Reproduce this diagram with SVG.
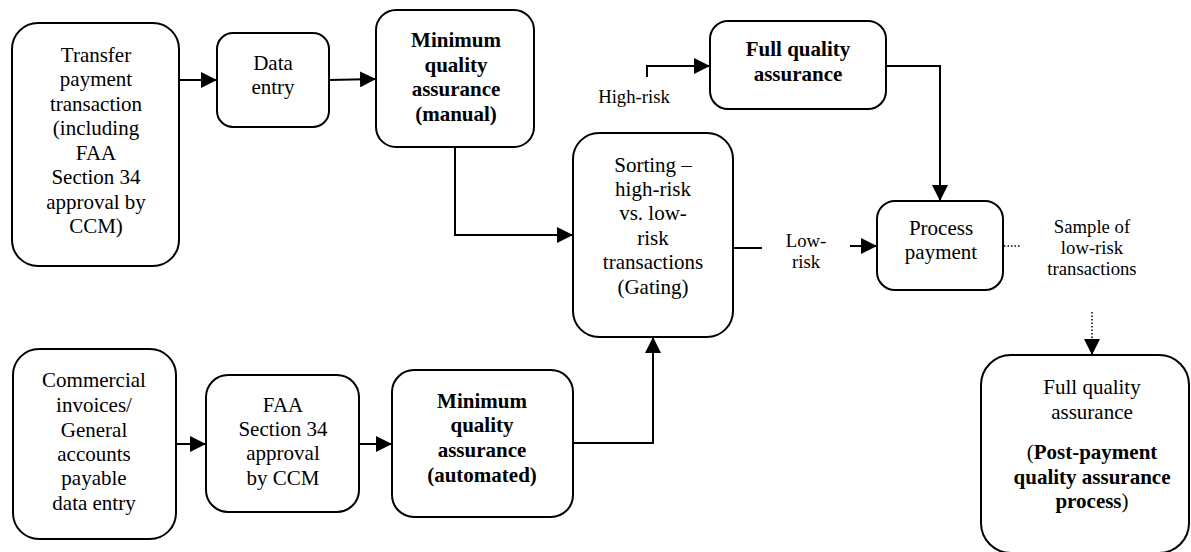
<svg xmlns="http://www.w3.org/2000/svg" width="1191" height="552" viewBox="0 0 1191 552">
<defs>
<style>
.box{fill:#fff;stroke:#000;stroke-width:2}
.t{font-family:'Liberation Serif','Times New Roman',Tinos,'DejaVu Serif',serif;font-size:21px;fill:#000;text-anchor:middle}
.b{font-weight:bold}
.lbl{font-family:'Liberation Serif','Times New Roman',Tinos,'DejaVu Serif',serif;font-size:18.7px;fill:#000;text-anchor:middle}
.c{fill:none;stroke:#000;stroke-width:2}
.dot{fill:none;stroke:#000;stroke-width:1.5;stroke-dasharray:1.5 2}
</style>
<marker id="ah" markerUnits="userSpaceOnUse" markerWidth="16" markerHeight="16" viewBox="0 0 16 16" refX="16" refY="8" orient="auto">
<path d="M0,0 L16,8 L0,16 Z" fill="#000"/>
</marker>
</defs>
<rect width="1191" height="552" fill="#fff"/>

<g id="connectors">
<line class="c" x1="179" y1="80" x2="217" y2="80" marker-end="url(#ah)"/>
<line class="c" x1="329" y1="80" x2="376" y2="79" marker-end="url(#ah)"/>
<polyline class="c" points="455,147 455,235 573,235" marker-end="url(#ah)"/>
<polyline class="c" points="647,77 647,66 710,66" marker-end="url(#ah)"/>
<line class="c" x1="647" y1="133" x2="647" y2="149"/>
<polyline class="c" points="886,66 940,66 940,201" marker-end="url(#ah)"/>
<line class="c" x1="733" y1="248" x2="762" y2="248"/>
<line class="c" x1="850" y1="246" x2="877" y2="246" marker-end="url(#ah)"/>
<line class="dot" x1="1004" y1="246" x2="1021" y2="246"/>
<line class="dot" x1="1092" y1="312" x2="1092" y2="342"/>
<line class="c" x1="1092" y1="340" x2="1092" y2="355" stroke-width="0" marker-end="url(#ah)"/>
<line class="c" x1="176" y1="444" x2="206" y2="444" marker-end="url(#ah)"/>
<line class="c" x1="359" y1="444" x2="392" y2="444" marker-end="url(#ah)"/>
<polyline class="c" points="573,443 653,443 653,337" marker-end="url(#ah)"/>
</g>

<g id="n-transfer">
<rect class="box" x="12" y="23" width="167" height="243" rx="26"/>
<text class="t" x="96" y="62">Transfer</text>
<text class="t" x="96" y="86">payment</text>
<text class="t" x="96" y="111">transaction</text>
<text class="t" x="96" y="135">(including</text>
<text class="t" x="96" y="160">FAA</text>
<text class="t" x="96" y="184">Section 34</text>
<text class="t" x="96" y="209">approval by</text>
<text class="t" x="96" y="233">CCM)</text>
</g>

<g id="n-dataentry">
<rect class="box" x="217" y="33" width="112" height="94" rx="16"/>
<text class="t" x="273" y="70">Data</text>
<text class="t" x="273" y="94">entry</text>
</g>

<g id="n-minqa-manual">
<rect class="box" x="376" y="10" width="158" height="137" rx="20"/>
<text class="t b" x="456" y="47">Minimum</text>
<text class="t b" x="456" y="72">quality</text>
<text class="t b" x="456" y="96">assurance</text>
<text class="t b" x="456" y="121">(manual)</text>
</g>

<g id="n-fullqa">
<rect class="box" x="710" y="21" width="176" height="88" rx="18"/>
<text class="t b" x="798" y="56">Full quality</text>
<text class="t b" x="798" y="81">assurance</text>
</g>

<g id="n-sorting">
<rect class="box" x="573" y="133" width="160" height="204" rx="26"/>
<text class="t" x="653" y="172">Sorting –</text>
<text class="t" x="653" y="196">high-risk</text>
<text class="t" x="653" y="220">vs. low-</text>
<text class="t" x="653" y="245">risk</text>
<text class="t" x="653" y="269">transactions</text>
<text class="t" x="653" y="294">(Gating)</text>
</g>

<g id="n-process">
<rect class="box" x="877" y="201" width="126" height="89" rx="18"/>
<text class="t" x="941" y="235">Process</text>
<text class="t" x="941" y="259">payment</text>
</g>

<g id="n-commercial">
<rect class="box" x="13" y="349" width="163" height="190" rx="26"/>
<text class="t" x="94" y="387">Commercial</text>
<text class="t" x="94" y="412">invoices/</text>
<text class="t" x="94" y="437">General</text>
<text class="t" x="94" y="461">accounts</text>
<text class="t" x="94" y="485">payable</text>
<text class="t" x="94" y="510">data entry</text>
</g>

<g id="n-faa">
<rect class="box" x="206" y="375" width="153" height="137" rx="22"/>
<text class="t" x="283" y="412">FAA</text>
<text class="t" x="283" y="436">Section 34</text>
<text class="t" x="283" y="460">approval</text>
<text class="t" x="283" y="485">by CCM</text>
</g>

<g id="n-minqa-auto">
<rect class="box" x="392" y="370" width="181" height="147" rx="22"/>
<text class="t b" x="482" y="408">Minimum</text>
<text class="t b" x="482" y="432">quality</text>
<text class="t b" x="482" y="457">assurance</text>
<text class="t b" x="482" y="482">(automated)</text>
</g>

<g id="n-postpayment">
<rect class="box" x="981" y="355" width="208" height="198" rx="30"/>
<text class="t" x="1092" y="394">Full quality</text>
<text class="t" x="1092" y="419">assurance</text>
<text class="t" x="1092" y="459">(<tspan class="b">Post-payment</tspan></text>
<text class="t b" x="1092" y="484">quality assurance</text>
<text class="t" x="1092" y="508"><tspan class="b">process</tspan>)</text>
</g>

<g id="labels">
<text class="lbl" x="634" y="103">High-risk</text>
<text class="lbl" x="806" y="247">Low-</text>
<text class="lbl" x="806" y="268">risk</text>
<text class="lbl" x="1092" y="233">Sample of</text>
<text class="lbl" x="1092" y="254">low-risk</text>
<text class="lbl" x="1092" y="275">transactions</text>
</g>
</svg>
